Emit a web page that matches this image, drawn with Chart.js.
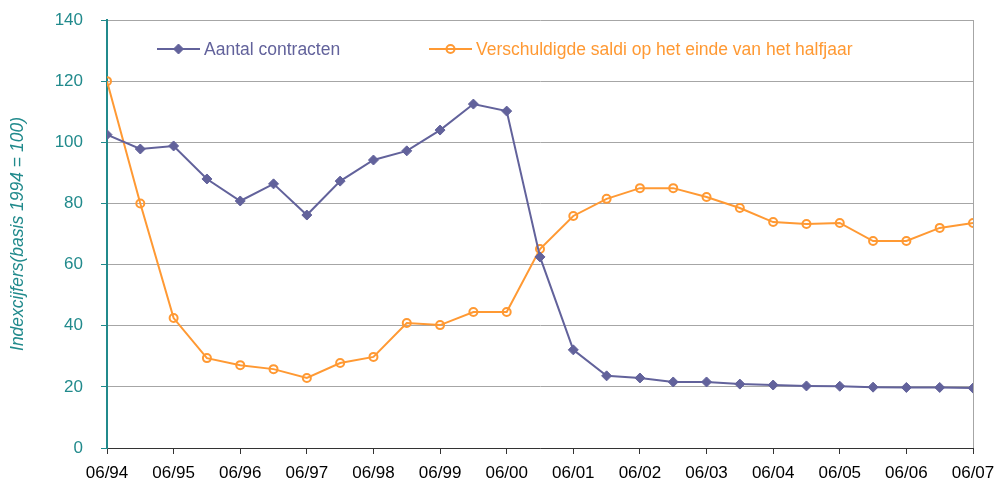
<!DOCTYPE html>
<html>
<head>
<meta charset="utf-8">
<script src="https://cdn.jsdelivr.net/npm/chart.js@4.4.1/dist/chart.umd.min.js"></script>
<style>
  html, body { margin: 0; padding: 0; background: #ffffff; }
  #wrap { width: 994px; height: 484px; position: relative; }
</style>
</head>
<body>
<div id="wrap"><canvas id="c" width="994" height="484"></canvas></div>
<script>
// Half-year periods (06/94 ... 06/07)
const periods = ["06/94","12/94","06/95","12/95","06/96","12/96","06/97","12/97","06/98","12/98","06/99","12/99","06/00","12/00","06/01","12/01","06/02","12/02","06/03","12/03","06/04","12/04","06/05","12/05","06/06","12/06","06/07"];
const xTickLabels = ["06/94","06/95","06/96","06/97","06/98","06/99","06/00","06/01","06/02","06/03","06/04","06/05","06/06","06/07"];
const aantalContracten = [102.5,97.8,98.8,88.0,80.8,86.4,76.2,87.3,94.2,97.2,104.0,112.5,110.2,62.5,32.1,23.6,22.9,21.6,21.6,20.9,20.6,20.3,20.2,19.9,19.8,19.8,19.6];
const verschuldigdeSaldi = [120.0,80.0,42.5,29.4,27.1,25.8,22.9,27.8,29.8,40.9,40.2,44.5,44.5,65.1,75.9,81.5,85.0,85.0,82.1,78.5,73.9,73.3,73.6,67.7,67.7,72.0,73.6];
const yTicks = [0,20,40,60,80,100,120,140];
const seriesNames = ["Aantal contracten","Verschuldigde saldi op het einde van het halfjaar"];
const yTitle = "Indexcijfers(basis 1994 = 100)";

const PURPLE = "#62629b";
const ORANGE = "#ff9933";
const TEAL = "#218a8c";
const FONT = "'Liberation Sans', Arial, sans-serif";

const legendPlugin = {
  id: 'customLegend',
  afterDraw(chart) {
    const ctx = chart.ctx;
    const items = [
      { x: 157, color: PURPLE, fill: PURPLE, style: 'rectRot', r: 5, text: seriesNames[0], tx: 204 },
      { x: 429, color: ORANGE, fill: 'rgba(0,0,0,0)', style: 'circle', r: 4, text: seriesNames[1], tx: 476 }
    ];
    const y = 49;
    ctx.save();
    items.forEach(it => {
      ctx.strokeStyle = it.color;
      ctx.lineWidth = 2;
      ctx.beginPath();
      ctx.moveTo(it.x, y);
      ctx.lineTo(it.x + 43, y);
      ctx.stroke();
      ctx.fillStyle = it.fill;
      ctx.strokeStyle = it.color;
      ctx.lineWidth = it.style === 'circle' ? 2 : 1;
      Chart.helpers.drawPoint(ctx, {
        pointStyle: it.style, radius: it.r, borderWidth: ctx.lineWidth, rotation: 0
      }, it.x + 21.5, y);
      ctx.fillStyle = it.color;
      ctx.font = "17.5px " + FONT;
      ctx.textBaseline = 'middle';
      ctx.textAlign = 'left';
      ctx.fillText(it.text, it.tx, y + 1);
    });
    // right border of plot area
    const a = chart.chartArea;
    ctx.strokeStyle = '#a6a6a6';
    ctx.lineWidth = 1;
    ctx.beginPath();
    ctx.moveTo(a.right + 0.5, a.top);
    ctx.lineTo(a.right + 0.5, a.bottom);
    ctx.stroke();
    ctx.restore();
  }
};

new Chart(document.getElementById('c'), {
  type: 'line',
  data: {
    datasets: [
      {
        label: seriesNames[0],
        data: aantalContracten.map((v, i) => ({ x: i, y: v })),
        borderColor: PURPLE,
        backgroundColor: PURPLE,
        borderWidth: 2,
        pointStyle: 'rectRot',
        pointRadius: 5,
        pointBorderWidth: 1,
        pointBackgroundColor: PURPLE,
        pointBorderColor: PURPLE,
        tension: 0
      },
      {
        label: seriesNames[1],
        data: verschuldigdeSaldi.map((v, i) => ({ x: i, y: v })),
        borderColor: ORANGE,
        backgroundColor: 'rgba(0,0,0,0)',
        borderWidth: 2,
        pointStyle: 'circle',
        pointRadius: 4,
        pointBorderWidth: 2,
        pointBackgroundColor: 'rgba(0,0,0,0)',
        pointBorderColor: ORANGE,
        tension: 0
      }
    ]
  },
  options: {
    responsive: false,
    animation: false,
    devicePixelRatio: 1,
    layout: { padding: { left: 0, right: 21, top: 20, bottom: 0 } },
    plugins: { legend: { display: false }, tooltip: { enabled: false } },
    scales: {
      x: {
        type: 'linear',
        min: 0, max: periods.length - 1,
        grid: { drawOnChartArea: false, drawTicks: true, tickLength: 6, color: '#000000', tickColor: '#333333' },
        border: { color: '#333333', width: 1 },
        ticks: {
          stepSize: 2,
          autoSkip: false,
          maxRotation: 0,
          padding: 9,
          color: '#000000',
          font: { family: FONT, size: 17 },
          callback: (v) => (v % 2 === 0 ? xTickLabels[v / 2] : '')
        },
        afterFit: (s) => { s.height = 36; s.paddingLeft = 0; s.paddingRight = 0; }
      },
      y: {
        min: 0, max: 140,
        afterBuildTicks: (s) => { s.ticks = yTicks.map(v => ({ value: v })); },
        grid: { color: '#a6a6a6', tickLength: 6, tickColor: TEAL, lineWidth: 1 },
        border: { color: TEAL, width: 2 },
        ticks: {
          color: TEAL,
          padding: 18,
          font: { family: FONT, size: 17 }
        },
        title: {
          display: true,
          text: yTitle,
          color: TEAL,
          font: { family: FONT, size: 17.5, style: 'italic' },
          padding: { top: 8, bottom: 0 }
        },
        afterFit: (s) => { s.width = 107; s.paddingTop = 0; s.paddingBottom = 0; }
      }
    }
  },
  plugins: [legendPlugin]
});
</script>
</body>
</html>
